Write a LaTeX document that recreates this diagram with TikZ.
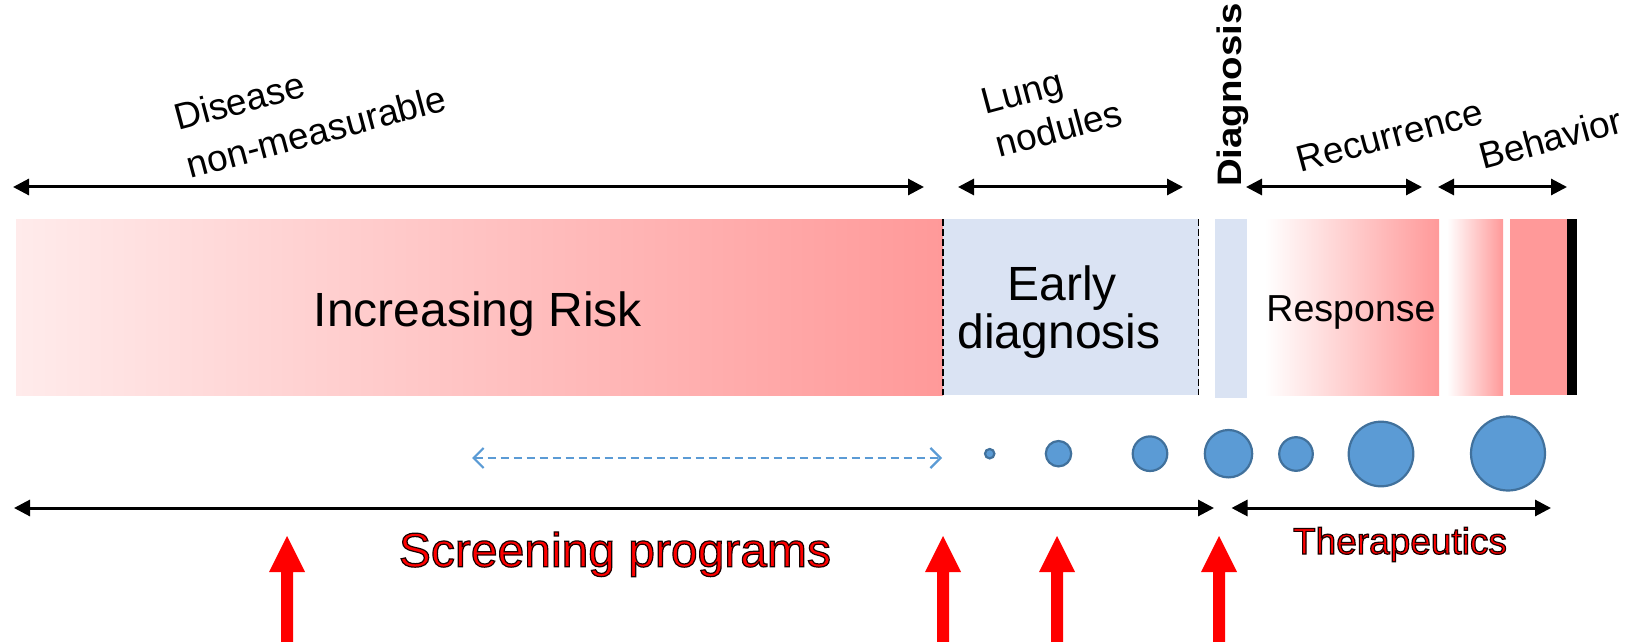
\documentclass[tikz,border=0pt]{standalone}
\usepackage{fontspec}
\setmainfont{Liberation Sans}
\usetikzlibrary{arrows.meta}
\definecolor{pinkc}{HTML}{FF9999}
\definecolor{lightpink}{HTML}{FFEBEB}
\definecolor{lblue}{HTML}{DAE3F3}
\definecolor{blobfill}{HTML}{5B9BD5}
\definecolor{blobline}{HTML}{41719C}
\definecolor{dashblue}{HTML}{5B9BD5}
\newcommand{\outlinedtext}[1]{\special{pdf:literal direct 2 Tr 0.6 w 0.1 0 0 RG}#1\special{pdf:literal direct 0 Tr}}
\begin{document}
\begin{tikzpicture}[x=0.5pt,y=-0.5pt,
  lbl/.style={font=\fontsize{18.5}{21}\selectfont, inner sep=0pt, anchor=base west, rotate=15},
  dimarrow/.style={line width=1.5pt, {Triangle[length=8pt,width=8pt]}-{Triangle[length=8pt,width=8pt]}},
  blob/.style={circle, fill=blobfill, draw=blobline, line width=1.1pt, inner sep=0pt},
  boxtext/.style={inner sep=0pt, anchor=base},
  sepline/.style={line width=0.6pt, dash pattern=on 3.5pt off 1.5pt},
  redtext/.style={inner sep=0pt, anchor=base, text=red}
]
\useasboundingbox (0,0) rectangle (1634,642);

% bar segments
\shade[left color=lightpink, right color=pinkc] (16,219) rectangle (943,395);
\fill[lblue] (943,219) rectangle (1198.7,395);
\draw[sepline] (943,219) -- (943,395);
\draw[sepline] (1198.7,219) -- (1198.7,395);
\fill[lblue] (1215,219) rectangle (1246.5,397.5);
\shade[left color=white, right color=pinkc] (1265,219) rectangle (1439,395);
\shade[left color=white, right color=pinkc] (1447,219) rectangle (1503,395);
\fill[pinkc] (1510,219) rectangle (1567,395);
\fill[black] (1567,219) rectangle (1577,395);

% texts inside bar
\node[boxtext, font=\fontsize{24}{28}\selectfont] (risk) at (478,326) {Increasing Risk};
\node[boxtext, font=\fontsize{24}{28}\selectfont] (early) at (1062,300) {Early};
\node[boxtext, font=\fontsize{24}{28}\selectfont] (diagn) at (1059,348) {diagnosis};
\node[boxtext, font=\fontsize{18.8}{22}\selectfont] (resp) at (1351,321.7) {Response};

% top labels
\node[lbl] (dis1) at (178,131) {Disease};
\node[lbl] (dis2) at (190,179) {non-measurable};
\node[lbl] (lung1) at (985,115) {Lung};
\node[lbl] (lung2) at (999,158) {nodules};
\node[lbl] (rec) at (1300,173) {Recurrence};
\node[lbl] (beh) at (1483,170) {Behavior};
\node[rotate=90, xscale=1.13, inner sep=0pt, font=\bfseries\fontsize{17}{20}\selectfont] (dxlab) at (1233,95) {Diagnosis};

% top arrows
\coordinate (a1l) at (13,187);   \coordinate (a1r) at (924,187);
\coordinate (a2l) at (958,187);  \coordinate (a2r) at (1183,187);
\coordinate (a3l) at (1246,187); \coordinate (a3r) at (1422,187);
\coordinate (a4l) at (1438,187); \coordinate (a4r) at (1567,187);
\draw[dimarrow] (a1l) -- (a1r);
\draw[dimarrow] (a2l) -- (a2r);
\draw[dimarrow] (a3l) -- (a3r);
\draw[dimarrow] (a4l) -- (a4r);

% blue dashed arrow
\coordinate (bdl) at (472,458);
\coordinate (bdr) at (942,458);
\draw[line width=1.1pt, dashblue, dash pattern=on 4pt off 2.5pt,
  {Straight Barb[length=5pt,width=10pt]}-{Straight Barb[length=5pt,width=10pt]}] (bdl) -- (bdr);

% nodules
\node[blob, minimum size=4.7pt]  (n1) at (989.7,453.7) {};
\node[blob, minimum size=12.7pt] (n2) at (1058.5,453.7) {};
\node[blob, minimum size=17.3pt] (n3) at (1150,453.7) {};
\node[blob, minimum size=23.7pt] (n4) at (1228.5,453.7) {};
\node[blob, minimum size=16.8pt] (n5) at (1296,454) {};
\node[blob, minimum size=32.3pt] (n6) at (1381,454) {};
\node[blob, minimum size=37pt]   (n7) at (1508,453.5) {};

% bottom arrows
\coordinate (b1l) at (14,508);   \coordinate (b1r) at (1214,508);
\coordinate (b2l) at (1231.5,508); \coordinate (b2r) at (1551,508);
\draw[dimarrow] (b1l) -- (b1r);
\draw[dimarrow] (b2l) -- (b2r);

% red texts
\node[redtext, font=\fontsize{24}{28}\selectfont] (screen) at (615,566.7) {\outlinedtext{Screening programs}};
\node[redtext, font=\fontsize{18.5}{22}\selectfont] (thera) at (1400,554) {\outlinedtext{Therapeutics}};

% red block arrows
\foreach \cx in {287,943,1057,1219}{
  \fill[red] (\cx-6,642) -- (\cx-6,572) -- (\cx-18,572) -- (\cx,536) -- (\cx+18,572) -- (\cx+6,572) -- (\cx+6,642) -- cycle;
}
\end{tikzpicture}
\end{document}
